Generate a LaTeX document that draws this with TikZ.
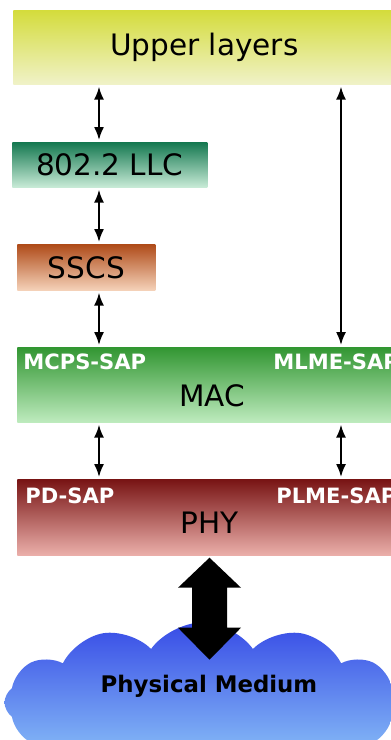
\documentclass[tikz,border=0pt]{standalone}
\usepackage{fontspec}
\setmainfont{DejaVu Sans}
\usepackage{xcolor}
\definecolor{upperTop}{RGB}{212,220,60}
\definecolor{upperBot}{RGB}{240,242,200}
\definecolor{llcTop}{RGB}{20,120,80}
\definecolor{llcBot}{RGB}{200,235,215}
\definecolor{sscsTop}{RGB}{175,75,25}
\definecolor{sscsBot}{RGB}{245,210,185}
\definecolor{macTop}{RGB}{50,150,50}
\definecolor{macBot}{RGB}{190,235,190}
\definecolor{phyTop}{RGB}{120,20,20}
\definecolor{phyBot}{RGB}{235,175,170}
\definecolor{mediumTop}{RGB}{55,75,230}
\definecolor{mediumBot}{RGB}{150,210,250}
\usepackage{tikz}
\usetikzlibrary{arrows.meta,positioning,calc,shapes.symbols}

\begin{document}
\begin{tikzpicture}[
  font=\fontsize{16.8}{20}\selectfont,
  layer/.style={
    rectangle, inner sep=0pt, anchor=north west,
    top color=#1Top, bottom color=#1Bot
  },
  sap/.style={
    anchor=west, inner sep=0pt, text=white,
    font=\fontsize{12}{14}\selectfont\bfseries
  },
  dbl/.style={{Latex[length=2.6mm,width=2mm]}-{Latex[length=2.6mm,width=2mm]},
    line width=1pt, shorten <=0.04cm, shorten >=0.04cm}
]
\useasboundingbox (0,0) rectangle (7.82,-14.8);
\clip (0,0) rectangle (7.82,-14.8);

% protocol stack
\node[layer=upper, minimum width=7.64cm, minimum height=1.48cm] (upper) at (0.26,-0.2) {Upper layers};
\node[layer=llc, minimum width=3.9cm, minimum height=0.9cm] (llc) at (0.24,-2.84) {802.2 LLC};
\node[layer=sscs, minimum width=2.76cm, minimum height=0.92cm] (sscs) at (0.34,-4.88) {SSCS};
\node[layer=mac, minimum width=7.8cm, minimum height=1.5cm] (mac) at (0.34,-6.94) {};
\node[layer=phy, minimum width=7.8cm, minimum height=1.52cm] (phy) at (0.34,-9.58) {};

\node (mactxt) at (4.24,-7.92) {MAC};
\node (phytxt) at (4.2,-10.46) {PHY};
\node[sap] (mcps) at (0.46,-7.24) {MCPS-SAP};
\node[sap] (mlme) at (5.46,-7.24) {MLME-SAP};
\node[sap] (pd) at (0.5,-9.92) {PD-SAP};
\node[sap] (plme) at (5.52,-9.92) {PLME-SAP};

% medium, running off the bottom edge
\node[cloud, cloud puffs=12, cloud puff arc=110, cloud ignores aspect,
  minimum width=7.9cm, minimum height=3.2cm,
  top color=mediumTop, bottom color=mediumBot] (medium) at (4.04,-14.05) {};
\node[font=\fontsize{13}{15}\selectfont\bfseries] (mediumtxt) at (4.18,-13.72) {Physical Medium};

% service access points
\coordinate (sapL) at (1.98,0);
\coordinate (sapR) at (6.82,0);
\foreach \a/\b in {upper/llc,llc/sscs,sscs/mac,mac/phy} {
  \draw[dbl] (\a.south -| sapL) -- (\b.north -| sapL);
}
\draw[dbl] (upper.south -| sapR) -- (mac.north -| sapR);
\draw[dbl] (mac.south -| sapR) -- (phy.north -| sapR);

% link to the medium
\fill ($(phy.south -| phytxt)+(-0.01,-0.04)$) -- ++(0.63,-0.6) -- ++(-0.28,0) -- ++(0,-0.8)
  -- ++(0.28,0) -- ++(-0.63,-0.64) -- ++(-0.63,0.64) -- ++(0.28,0) -- ++(0,0.8)
  -- ++(-0.28,0) -- cycle;
\end{tikzpicture}
\end{document}
